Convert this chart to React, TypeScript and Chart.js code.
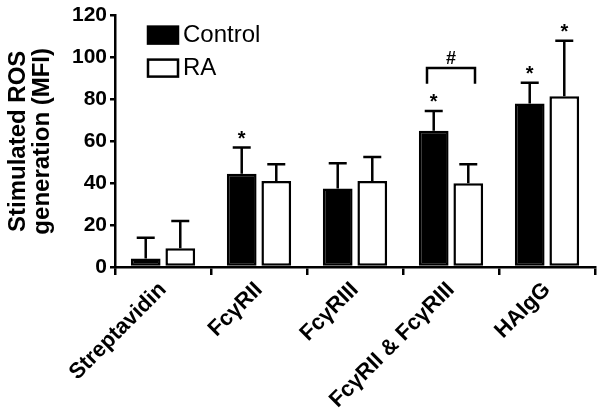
import React, { useEffect, useRef } from 'react';
import { Chart, registerables } from 'chart.js';

Chart.register(...registerables);

const categories = ['Streptavidin', 'FcγRII', 'FcγRIII', 'FcγRII & FcγRIII', 'HAIgG'];
const controlValues = [4, 44.5, 37.5, 65, 78];
const controlErrors = [10, 12.5, 12, 9.5, 10];
const raValues = [9, 41, 41, 40, 81.5];
const raErrors = [13, 8, 11.5, 9, 26.5];
const controlMarks = ['', '*', '', '*', '*'];
const raMarks = ['', '', '', '', '*'];
const bracketCategory = 3;
const bracketLabel = '#';
const bracketTopValue = 95;
const bracketLegValue = 87.5;
const yTicks = [0, 20, 40, 60, 80, 100, 120];
const seriesNames = ['Control', 'RA'];

const FONT = '"Liberation Sans", Arial, sans-serif';

const annotationPlugin = {
  id: 'annotations',
  afterDatasetsDraw(chart: any) {
    const ctx = chart.ctx;
    const y = chart.scales.y;
    const x = chart.scales.x;
    const errs = [controlErrors, raErrors];
    const marks = [controlMarks, raMarks];
    ctx.save();
    ctx.strokeStyle = '#000';
    ctx.fillStyle = '#000';
    ctx.lineWidth = 2.5;
    ctx.lineCap = 'butt';
    chart.data.datasets.forEach((ds: any, di: number) => {
      const meta = chart.getDatasetMeta(di);
      meta.data.forEach((bar: any, i: number) => {
        const v = ds.data[i];
        const top = y.getPixelForValue(v + errs[di][i]);
        ctx.beginPath();
        ctx.moveTo(bar.x, bar.y);
        ctx.lineTo(bar.x, top);
        ctx.moveTo(bar.x - 9, top);
        ctx.lineTo(bar.x + 9, top);
        ctx.stroke();
        if (marks[di][i]) {
          ctx.font = `bold 20px ${FONT}`;
          ctx.textAlign = 'center';
          ctx.textBaseline = 'alphabetic';
          ctx.fillText(marks[di][i], bar.x, top - 3);
        }
      });
    });
    // bracket
    const cx = x.getPixelForValue(bracketCategory);
    const cw = x.getPixelForValue(1) - x.getPixelForValue(0);
    const x0 = cx - cw * 0.25;
    const x1 = cx + cw * 0.25;
    const yt = y.getPixelForValue(bracketTopValue);
    const yl = y.getPixelForValue(bracketLegValue);
    ctx.beginPath();
    ctx.moveTo(x0, yl);
    ctx.lineTo(x0, yt);
    ctx.lineTo(x1, yt);
    ctx.lineTo(x1, yl);
    ctx.stroke();
    ctx.font = `bold 18px ${FONT}`;
    ctx.textAlign = 'center';
    ctx.textBaseline = 'alphabetic';
    ctx.fillText(bracketLabel, cx, yt - 4);
    ctx.restore();
  },
  afterDraw(chart: any) {
    const ctx = chart.ctx;
    const area = chart.chartArea;
    ctx.save();
    chart.data.datasets.forEach((ds: any, di: number) => {
      const bx = area.left + 33;
      const by = area.top + 11 + di * 33;
      ctx.fillStyle = ds.backgroundColor;
      ctx.fillRect(bx, by, 30, 17);
      ctx.strokeStyle = '#000';
      ctx.lineWidth = 2.5;
      ctx.strokeRect(bx, by, 30, 17);
      ctx.fillStyle = '#000';
      ctx.font = `24px ${FONT}`;
      ctx.textAlign = 'left';
      ctx.textBaseline = 'middle';
      ctx.fillText(seriesNames[di], bx + 35, by + 9);
    });
    ctx.restore();
  },
};

export default function App() {
  const ref = useRef<HTMLCanvasElement | null>(null);
  useEffect(() => {
    document.body.style.margin = '0';
    if (!ref.current) return;
    const chart = new Chart(ref.current, {
      type: 'bar',
      data: {
        labels: categories,
        datasets: [
          {
            label: seriesNames[0],
            data: controlValues,
            backgroundColor: '#000',
            borderColor: '#000',
            borderWidth: 2.5,
            borderSkipped: false,
            categoryPercentage: 0.72,
            barPercentage: 0.86,
          },
          {
            label: seriesNames[1],
            data: raValues,
            backgroundColor: '#fff',
            borderColor: '#000',
            borderWidth: 2.5,
            borderSkipped: false,
            categoryPercentage: 0.72,
            barPercentage: 0.86,
          },
        ],
      },
      options: {
        responsive: false,
        animation: false,
        layout: { padding: { top: 15, right: 5, left: 0, bottom: 0 } },
        plugins: { legend: { display: false }, tooltip: { enabled: false } },
        scales: {
          x: {
            grid: { drawOnChartArea: false, drawTicks: true, tickLength: 8, color: '#000', lineWidth: 2.5 },
            border: { display: true, color: '#000', width: 2.5 },
            ticks: {
              color: '#000',
              font: { family: FONT, size: 22, weight: 'bold' },
              minRotation: 45,
              maxRotation: 45,
              padding: 2,
              autoSkip: false,
            },
            afterFit: (scale: any) => {
              scale.height = 150;
            },
          },
          y: {
            min: 0,
            max: 120,
            afterBuildTicks: (scale: any) => {
              scale.ticks = yTicks.map((v) => ({ value: v }));
            },
            grid: { drawOnChartArea: false, drawTicks: true, tickLength: 5, color: '#000', lineWidth: 2.5 },
            border: { display: true, color: '#000', width: 2.5 },
            ticks: {
              color: '#000',
              font: { family: FONT, size: 21, weight: 'bold' },
              padding: 3,
            },
            title: {
              display: true,
              text: ['Stimulated ROS', 'generation (MFI)'],
              color: '#000',
              font: { family: FONT, size: 24, weight: 'bold', lineHeight: 1.0 },
              padding: { top: 6, bottom: 0 },
            },
            afterFit: (scale: any) => {
              scale.width = 115;
            },
          },
        },
      },
      plugins: [annotationPlugin],
    } as any);
    return () => chart.destroy();
  }, []);
  return (
    <div style={{ position: 'fixed', left: 0, top: 0, width: 600, height: 417 }}>
      <canvas ref={ref} width={600} height={417} />
    </div>
  );
}
